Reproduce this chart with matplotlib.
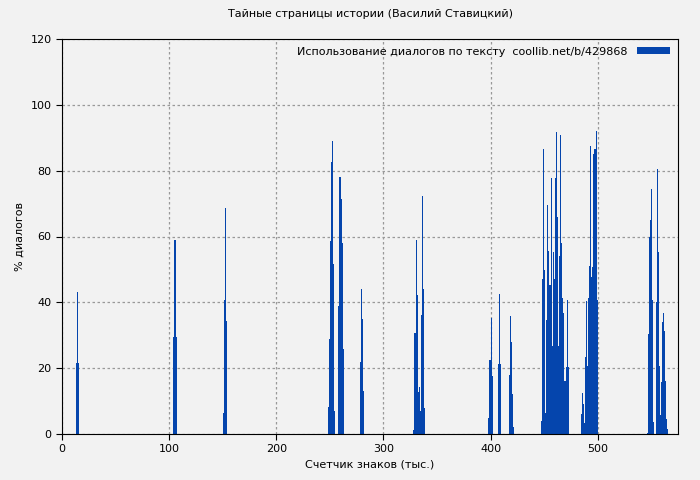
import matplotlib
matplotlib.use("Agg")
import matplotlib.pyplot as plt

positions = (list(range(13, 16)) + list(range(104, 107)) + list(range(150, 154))
             + list(range(248, 255)) + list(range(258, 263)) + list(range(278, 282))
             + list(range(328, 339)) + list(range(398, 402)) + list(range(407, 410))
             + list(range(417, 422)) + list(range(447, 473)) + list(range(484, 500))
             + list(range(546, 553)) + list(range(554, 566)))
values = ([21.6, 43.2, 21.6] + [29.5, 59.0, 29.5] + [6.5, 40.7, 68.7, 34.3]
          + [8.3, 28.9, 58.7, 82.7, 89.0, 51.7, 7.0]
          + [38.9, 78.1, 71.4, 58.0, 25.9]
          + [21.9, 44.0, 34.9, 13.1]
          + [1.2, 30.7, 58.9, 42.2, 12.8, 14.3, 7.0, 36.2, 72.3, 44.0, 7.9]
          + [4.9, 22.5, 35.3, 17.6]
          + [21.2, 42.5, 21.2]
          + [17.9, 35.9, 27.9, 12.3, 2.2]
          + [3.9, 47.1, 86.6, 49.7, 6.4, 34.7, 69.6, 55.6, 45.3, 77.9, 26.7, 55.3, 47.1,
             77.9, 91.8, 65.9, 26.7, 54.1, 90.9, 58.0, 41.3, 36.8, 16.1, 20.3, 40.8, 20.3]
          + [6.1, 12.5, 9.2, 3.4, 23.4, 40.4, 20.6, 41.3, 51.0, 87.5, 47.7, 50.7, 85.1,
             86.6, 92.0, 40.8]
          + [0.3, 30.4, 60.0, 64.9, 74.3, 40.8, 3.7]
          + [40.1, 80.6, 55.3, 20.6, 5.8, 15.8, 34.1, 36.8, 31.3, 16.1, 4.5, 1.5])

xticks = [0, 100, 200, 300, 400, 500]
yticks = [0, 20, 40, 60, 80, 100, 120]

fig = plt.figure(figsize=(7, 4.8), dpi=100, facecolor="#f2f2f2")
ax = fig.add_axes([62/700, 46/480, 616/700, 395/480])
ax.set_facecolor("#f2f2f2")
ax.bar(positions, values, width=1.0, align="edge", color="#0545ad", linewidth=0,
       label="Использование диалогов по тексту  coollib.net/b/429868")
ax.set_xlim(0, 575)
ax.set_ylim(0, 120)
ax.set_xticks(xticks)
ax.set_yticks(yticks)
ax.grid(True, color="#999999", linestyle=(0, (2, 2)), linewidth=0.9)
ax.set_axisbelow(True)
ax.tick_params(labelsize=8, direction="out", length=4)
ax.set_title("Тайные страницы истории (Василий Ставицкий)", fontsize=8, pad=16)
ax.set_xlabel("Счетчик знаков (тыс.)", fontsize=8)
ax.set_ylabel("% диалогов", fontsize=8)
leg = ax.legend(loc="upper right", fontsize=8, frameon=False, markerfirst=False,
                handlelength=3.0, handleheight=0.6, borderaxespad=0.3)
fig.savefig("out.png", dpi=100, facecolor=fig.get_facecolor())
